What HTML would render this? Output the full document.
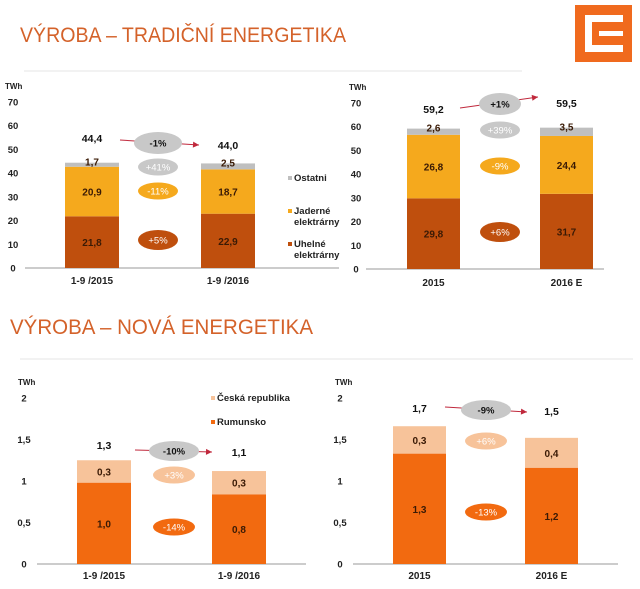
<!DOCTYPE html>
<html><head><meta charset="utf-8"><style>
body{margin:0;background:#fff;width:640px;height:589px;overflow:hidden}
svg{display:block;font-family:"Liberation Sans Narrow","Liberation Sans",sans-serif}
</style></head><body>
<svg id="s" width="640" height="589" viewBox="0 0 640 589">
<text x="20" y="42" font-family="Liberation Sans" font-size="21" fill="#D4622A" textLength="326" lengthAdjust="spacingAndGlyphs">VÝROBA – TRADIČNÍ ENERGETIKA</text>
<line x1="24" y1="71" x2="522" y2="71" stroke="#e4e4e4"/>
<g>
<rect x="575" y="5" width="57" height="57" fill="#F06A1E"/>
<rect x="585" y="15" width="38" height="37" fill="#fff"/>
<rect x="592" y="22" width="31" height="23" fill="#F06A1E"/>
<rect x="599" y="31" width="24" height="5" fill="#fff"/>
</g>
<text x="10" y="334" font-family="Liberation Sans" font-size="21" fill="#D4622A" textLength="303" lengthAdjust="spacingAndGlyphs">VÝROBA – NOVÁ ENERGETIKA</text>
<line x1="20" y1="359" x2="633" y2="359" stroke="#e4e4e4"/>
</svg>
<script>
// Chart 1: traditional, 1-9
const c1Categories = ["1-9 /2015", "1-9 /2016"];
const c1Coal = [21.8, 22.9];
const c1Nuclear = [20.9, 18.7];
const c1Other = [1.7, 2.5];
const c1Totals = ["44,4", "44,0"];
const c1Ticks = [0,10,20,30,40,50,60,70];
const c1Changes = ["-1%", "+41%", "-11%", "+5%"];
// Chart 2: traditional, year
const c2Categories = ["2015", "2016 E"];
const c2Coal = [29.8, 31.7];
const c2Nuclear = [26.8, 24.4];
const c2Other = [2.6, 3.5];
const c2Totals = ["59,2", "59,5"];
const c2Ticks = [0,10,20,30,40,50,60,70];
const c2Changes = ["+1%", "+39%", "-9%", "+6%"];
// Chart 3: new, 1-9
const c3Categories = ["1-9 /2015", "1-9 /2016"];
const c3Romania = [0.98, 0.84];
const c3Czech = [0.27, 0.28];
const c3Totals = ["1,3", "1,1"];
const c3Ticks = [0,0.5,1,1.5,2];
const c3Changes = ["-10%", "+3%", "-14%"];
// Chart 4: new, year
const c4Categories = ["2015", "2016 E"];
const c4Romania = [1.33, 1.16];
const c4Czech = [0.33, 0.36];
const c4Totals = ["1,7", "1,5"];
const c4Ticks = [0,0.5,1,1.5,2];
const c4Changes = ["-9%", "+6%", "-13%"];

const S = document.getElementById('s');
const NS = 'http://www.w3.org/2000/svg';
function mk(tag, attrs, parent){const e=document.createElementNS(NS,tag);for(const k in attrs)e.setAttribute(k,attrs[k]);(parent||S).appendChild(e);return e;}
function txt(x,y,s,size,fill,anchor,weight,parent){const t=mk('text',{x:x,y:y,'font-size':size,fill:fill,'text-anchor':anchor||'middle','font-weight':weight||'bold'},parent);t.textContent=s;return t;}
function fmt(v){return v.toFixed(1).replace('.',',');}

function chart(cfg){
  const g=mk('g',{});
  
  
  const yS=v=>cfg.y0-(v/cfg.max)*(cfg.y0-cfg.yTop);
  const unit=txt(cfg.unitX,cfg.unitY,'TWh',8,'#222','start','bold',g);
  
  
  cfg.ticks.forEach(t=>{
    const l=txt(cfg.tickX,yS(t)+3.5,String(t).replace('.',','),9.5,'#222','middle','bold',g);
    
    
  });
  const ax=mk('line',{x1:cfg.ax1,x2:cfg.ax2,y1:cfg.y0,y2:cfg.y0,stroke:'#999','stroke-width':1},g);
  
  
  cfg.cats.forEach((c,i)=>{
    const bx=cfg.barX[i];
    let base=0;
    cfg.series.forEach((s,si)=>{
      const v=s.vals[i];
      const r=mk('rect',{x:bx,width:cfg.bw,y:yS(base+v),height:yS(base)-yS(base+v),fill:s.color},g);
      
      
      if(s.label!=='none'){
        const ly=s.label==='top'?yS(base+v)+3:(yS(base)+yS(base+v))/2+4;
        const t=txt(bx+cfg.bw/2,ly,fmt(v),10,s.tc||'#3a1a05','middle','bold',g);
        
        
      }
      base+=v;
    });
    const cl=txt(bx+cfg.bw/2,cfg.catY,c,10,'#222','middle','bold',g);
    
    
    const tl=txt(bx+cfg.bw/2,cfg.totY[i],cfg.totals[i],10.5,'#111','middle','bold',g);
    
    
  });
  const a=cfg.arrow;
  const ar=mk('line',{x1:a[0],y1:a[1],x2:a[2],y2:a[3],stroke:'#C0283C','stroke-width':1},g);
  
  
  const ang=Math.atan2(a[3]-a[1],a[2]-a[0]);
  const hp=[[a[2],a[3]],[a[2]-6*Math.cos(ang)+3*Math.sin(ang),a[3]-6*Math.sin(ang)-3*Math.cos(ang)],[a[2]-6*Math.cos(ang)-3*Math.sin(ang),a[3]-6*Math.sin(ang)+3*Math.cos(ang)]];
  const ah=mk('polygon',{points:hp.map(p=>p.join(',')).join(' '),fill:'#C0283C'},g);
  
  
  cfg.bubbles.forEach((b,i)=>{
    const e=mk('ellipse',{cx:cfg.bubX,cy:b.y,rx:b.rx||20,ry:b.ry||8.5,fill:b.color},g);
    
    
    const t=txt(cfg.bubX,b.y+3.5,cfg.changes[i],9.5,b.tc,'middle',b.w||'normal',g);
    
    
  });
  cfg.legend.forEach(l=>{
    const m=mk('rect',{x:l.x,y:l.y-5,width:4,height:4,fill:l.color},g);
    
    
    l.lines.forEach((s,k)=>{
      const t=txt(l.x+6,l.y+k*11,s,9.5,'#222','start','bold',g);
      
      
    });
  });
}
const GRAY='#BFBFBF',YEL='#F5A91D',BRN='#BF4F0D',RUM='#F26A10',CZ='#F7C39A';
chart({name:'chart-traditional-9m',y0:268,yTop:102,max:70,ticks:c1Ticks,tickX:13,unitX:5,unitY:89,ax1:25,ax2:339,
  cats:c1Categories,barX:[65,201],bw:54,catY:284,totals:c1Totals,totY:[142,149],
  series:[{key:'coal',vals:c1Coal,color:BRN,label:'mid'},{key:'nuclear',vals:c1Nuclear,color:YEL,label:'mid'},{key:'other',vals:c1Other,color:GRAY,label:'top'}],
  arrow:[120,140,199,145],bubX:158,changes:c1Changes,
  bubbles:[{y:143,color:'#C8C8C8',tc:'#111',w:'bold',rx:24,ry:11},{y:167,color:'#C8C8C8',tc:'#fff'},{y:191,color:YEL,tc:'#fff'},{y:240,color:BRN,tc:'#fff',ry:10}],
  legend:[{x:288,y:181,color:GRAY,lines:['Ostatni']},{x:288,y:214,color:YEL,lines:['Jaderné','elektrárny']},{x:288,y:247,color:BRN,lines:['Uhelné','elektrárny']}]});
chart({name:'chart-traditional-year',y0:269,yTop:103,max:70,ticks:c2Ticks,tickX:356,unitX:349,unitY:90,ax1:366,ax2:604,
  cats:c2Categories,barX:[407,540],bw:53,catY:286,totals:c2Totals,totY:[113,107],
  series:[{key:'coal',vals:c2Coal,color:BRN,label:'mid'},{key:'nuclear',vals:c2Nuclear,color:YEL,label:'mid'},{key:'other',vals:c2Other,color:GRAY,label:'top'}],
  arrow:[460,108,538,97],bubX:500,changes:c2Changes,
  bubbles:[{y:104,color:'#C8C8C8',tc:'#111',w:'bold',rx:21,ry:11},{y:130,color:'#C8C8C8',tc:'#fff'},{y:166,color:YEL,tc:'#fff'},{y:232,color:BRN,tc:'#fff',ry:10}],
  legend:[]});
chart({name:'chart-new-9m',y0:564,yTop:398,max:2,ticks:c3Ticks,tickX:24,unitX:18,unitY:385,ax1:37,ax2:306,
  cats:c3Categories,barX:[77,212],bw:54,catY:579,totals:c3Totals,totY:[449,456],
  series:[{key:'romania',vals:c3Romania,color:RUM,label:'mid'},{key:'czech',vals:c3Czech,color:CZ,label:'mid'}],
  arrow:[135,450,212,452],bubX:174,changes:c3Changes,
  bubbles:[{y:451,color:'#C8C8C8',tc:'#111',w:'bold',rx:25,ry:10},{y:475,color:CZ,tc:'#fff',rx:21},{y:527,color:RUM,tc:'#fff',rx:21}],
  legend:[{x:211,y:401,color:CZ,lines:['Česká republika']},{x:211,y:425,color:RUM,lines:['Rumunsko']}]});
chart({name:'chart-new-year',y0:564,yTop:398,max:2,ticks:c4Ticks,tickX:340,unitX:335,unitY:385,ax1:353,ax2:618,
  cats:c4Categories,barX:[393,525],bw:53,catY:579,totals:c4Totals,totY:[412,415],
  series:[{key:'romania',vals:c4Romania,color:RUM,label:'mid'},{key:'czech',vals:c4Czech,color:CZ,label:'mid'}],
  arrow:[445,407,527,412],bubX:486,changes:c4Changes,
  bubbles:[{y:410,color:'#C8C8C8',tc:'#111',w:'bold',rx:25,ry:10},{y:441,color:CZ,tc:'#fff',rx:21},{y:512,color:RUM,tc:'#fff',rx:21}],
  legend:[]});
</script>
</body></html>
